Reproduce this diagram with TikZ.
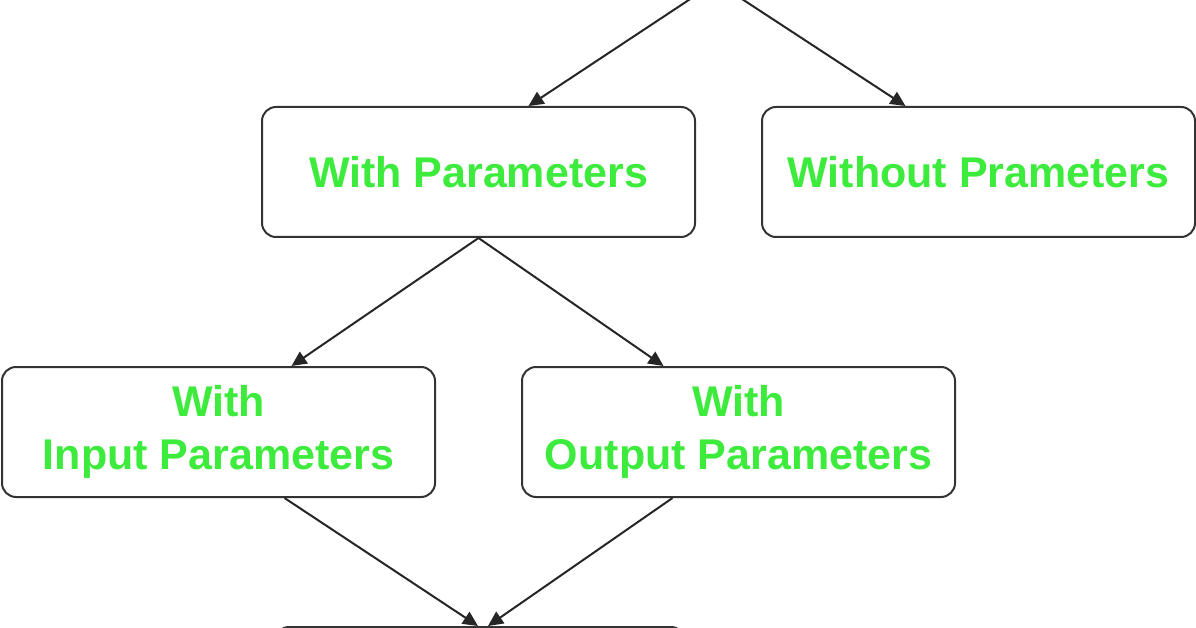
\documentclass[tikz,border=0pt]{standalone}
\usepackage{fontspec}
\setmainfont{Liberation Sans}
\usetikzlibrary{arrows.meta}
\begin{document}
\begin{tikzpicture}[x=1pt,y=-1pt,
  box/.style={draw=black!80,line width=2pt,rounded corners=14pt,minimum width=433pt,minimum height=130pt,inner sep=0pt,align=center,font=\fontsize{43}{53}\selectfont\bfseries},
  arr/.style={draw=black!85,line width=2pt,-{Triangle[length=15pt,width=14pt]}}]
\definecolor{tg}{RGB}{60,235,60}
\tikzset{box/.append style={text=tg}}
\useasboundingbox (0,0) rectangle (1196,628);
\clip (0,0) rectangle (1196,628);
\node[box] (top) at (716,-84) {};
\node[box] (wp) at (478.5,172) {With Parameters};
\node[box] (wop) at (978.5,172) {Without Prameters};
\node[box] (wip) at (218.5,432) {With\\Input Parameters};
\node[box] (wout) at (738.5,432) {With\\Output Parameters};
\node[box,minimum width=410pt] (bot) at (480,692) {};
\draw[arr] (top.south) -- ([xshift=50pt]wp.north);
\draw[arr] (top.south) -- ([xshift=-73pt]wop.north);
\draw[arr] (wp.south) -- ([xshift=73pt]wip.north);
\draw[arr] (wp.south) -- ([xshift=-75pt]wout.north);
\draw[arr] ([xshift=66pt]wip.south) -- ([xshift=-2pt]bot.north);
\draw[arr] ([xshift=-66pt]wout.south) -- ([xshift=8pt]bot.north);
\end{tikzpicture}
\end{document}
